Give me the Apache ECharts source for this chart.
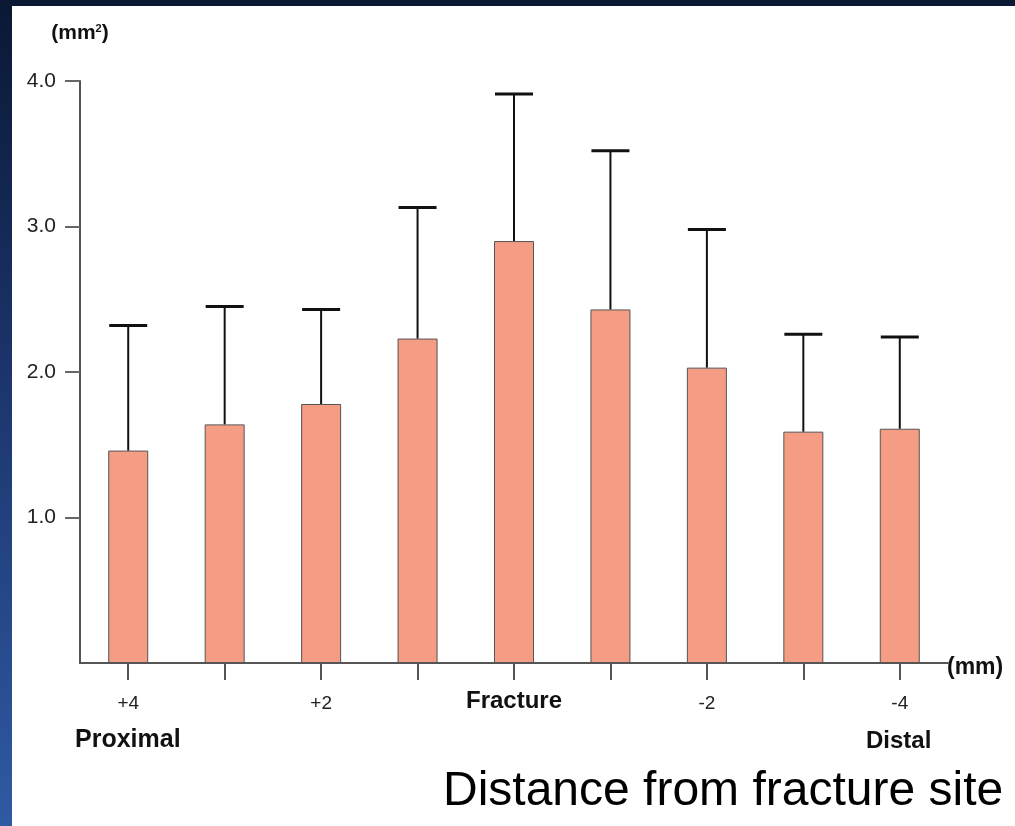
<!DOCTYPE html>
<html>
<head>
<meta charset="utf-8">
<script src="https://cdn.jsdelivr.net/npm/echarts@6/dist/echarts.min.js"></script>
<style>
html,body{margin:0;padding:0;width:1015px;height:826px;overflow:hidden;}
body{background:linear-gradient(to bottom,#0a1834 0%,#1a3166 40%,#2f5aa4 100%);position:relative;}
#panel{position:absolute;left:12px;top:6px;right:0;bottom:0;background:#ffffff;}
#chart{position:absolute;left:0;top:0;width:1015px;height:826px;}
</style>
</head>
<body>
<div id="panel"></div>
<div id="chart"></div>
<script>
// Distance from fracture site (mm), proximal (+) to distal (-)
const categories = ['+4', '+3', '+2', '+1', 'Fracture', '-1', '-2', '-3', '-4'];
const shownLabels = ['+4', '', '+2', '', 'Fracture', '', '-2', '', '-4'];
// Mean area (mm^2)
const means = [1.46, 1.64, 1.78, 2.23, 2.90, 2.43, 2.03, 1.59, 1.61];
// Top of error bar (mean + SD), mm^2
const errorTops = [2.32, 2.45, 2.43, 3.13, 3.91, 3.52, 2.98, 2.26, 2.24];
const yTickValues = [1, 2, 3, 4];
const yTickLabels = ['1.0', '2.0', '3.0', '4.0'];

const chart = echarts.init(document.getElementById('chart'), null, {renderer: 'canvas'});
const font = 'Liberation Sans, Arial, Helvetica, sans-serif';

const option = {
  backgroundColor: 'transparent',
  animation: false,
  grid: {left: 80, top: 81, right: 67, bottom: 163, containLabel: false},
  xAxis: {
    type: 'category',
    data: categories,
    boundaryGap: true,
    axisLine: {show: true, lineStyle: {color: '#555', width: 2}},
    axisTick: {show: true, alignWithLabel: true, length: 17, lineStyle: {color: '#555', width: 2}},
    axisLabel: {
      interval: 0,
      margin: 31,
      fontFamily: font,
      fontSize: 19,
      color: '#222',
      formatter: function (v, i) {
        const s = shownLabels[i];
        if (s === 'Fracture') return '{b|' + s + '}';
        return s;
      },
      rich: {b: {fontFamily: font, fontSize: 24, fontWeight: 'bold', color: '#111', lineHeight: 14}}
    },
    splitLine: {show: false}
  },
  yAxis: {
    type: 'value',
    min: 0,
    max: 4,
    interval: 1,
    name: '(mm{s|2})',
    nameLocation: 'end',
    nameGap: 37,
    nameTextStyle: {
      fontFamily: font, fontSize: 21, fontWeight: 'bold', color: '#111', align: 'center',
      rich: {s: {fontFamily: font, fontSize: 11, fontWeight: 'bold', color: '#111', verticalAlign: 'top', padding: [0, 0, 10, 0]}}
    },
    axisLine: {show: true, lineStyle: {color: '#555', width: 2}},
    axisTick: {show: true, length: 15, customValues: yTickValues, lineStyle: {color: '#666', width: 2}},
    axisLabel: {
      customValues: yTickValues,
      margin: 24,
      fontFamily: font,
      fontSize: 21,
      color: '#222',
      formatter: function (v) {
        const i = yTickValues.indexOf(v);
        return i >= 0 ? yTickLabels[i] : '';
      }
    },
    splitLine: {show: false}
  },
  series: [
    {
      type: 'bar',
      data: means,
      barWidth: 40,
      itemStyle: {color: '#f49c84', borderColor: '#555', borderWidth: 1},
      z: 2
    },
    {
      type: 'custom',
      data: means.map(function (m, i) { return [i, m, errorTops[i]]; }),
      encode: {x: 0, y: [1, 2]},
      z: 3,
      renderItem: function (params, api) {
        const idx = api.value(0);
        const base = api.coord([idx, api.value(1)]);
        const top = api.coord([idx, api.value(2)]);
        const half = 19;
        return {
          type: 'group',
          children: [
            {type: 'line', shape: {x1: top[0], y1: base[1], x2: top[0], y2: top[1]}, style: {stroke: '#111', lineWidth: 2}},
            {type: 'line', shape: {x1: top[0] - half, y1: top[1], x2: top[0] + half, y2: top[1]}, style: {stroke: '#111', lineWidth: 3}}
          ]
        };
      }
    }
  ],
  graphic: [
    {type: 'text', left: 947, top: 656, style: {text: '(mm)', font: 'bold 23px ' + font, fill: '#111'}},
    {type: 'text', left: 75, top: 728, style: {text: 'Proximal', font: 'bold 25px ' + font, fill: '#111'}},
    {type: 'text', left: 866, top: 729, style: {text: 'Distal', font: 'bold 24px ' + font, fill: '#111'}},
    {type: 'text', left: 443, top: 768, style: {text: 'Distance from fracture site', font: '48px ' + font, fill: '#000'}}
  ]
};
chart.setOption(option);
</script>
</body>
</html>
